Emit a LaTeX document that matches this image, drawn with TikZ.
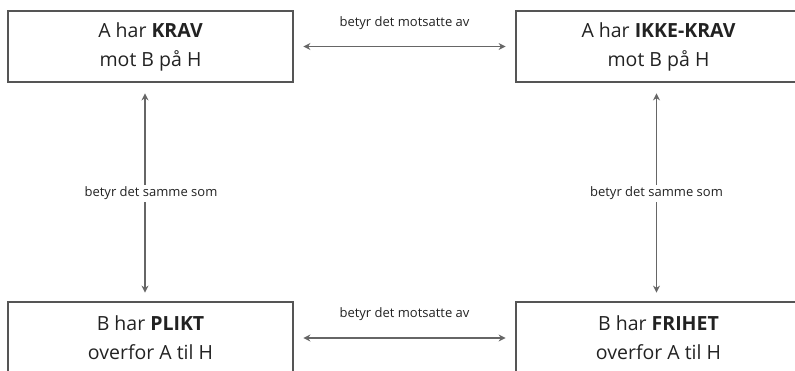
\documentclass[tikz,border=0pt]{standalone}
\usepackage{fontspec}
\setmainfont{Open Sans}
\usetikzlibrary{arrows.meta}
\definecolor{boxline}{HTML}{555555}
\definecolor{arrline}{HTML}{666666}
\definecolor{txt}{HTML}{222222}
\tikzset{
  mainbox/.style={draw=boxline, line width=2.8pt, minimum width=285pt, minimum height=71pt,
    inner sep=0pt, align=center, text=txt, font=\fontsize{19.5}{29}\selectfont},
  relarrow/.style={draw=arrline, line width=1.3pt, {Stealth[length=7pt,width=7pt]}-{Stealth[length=7pt,width=7pt]}},
  rellabel/.style={font=\fontsize{13}{15}\selectfont, text=txt, inner sep=2pt},
}
\begin{document}
\begin{tikzpicture}[x=1pt,y=-1pt]
\useasboundingbox (0,0) rectangle (795,370);
\clip (0,0) rectangle (795,370);
\node[mainbox] (krav) at (150.5,46.5) {A har \textbf{KRAV}\\mot B på H};
\node[mainbox] (ikke) at (658.5,46.5) {A har \textbf{IKKE-KRAV}\\mot B på H};
\node[mainbox] (plikt) at (150.5,337.5) {B har \textbf{PLIKT}\\overfor A til H};
\node[mainbox] (frihet) at (658.5,337.5) {B har \textbf{FRIHET}\\overfor A til H};

\draw[relarrow, shorten <=9pt, shorten >=9pt] (krav.east) -- (ikke.west);
\node[rellabel] (lab1) at (404.5,23) {betyr det motsatte av};
\draw[relarrow, shorten <=9pt, shorten >=9pt] ([yshift=-0.5pt]plikt.east) -- ([yshift=-0.5pt]frihet.west);
\node[rellabel] (lab2) at (404.5,314) {betyr det motsatte av};

\draw[relarrow, shorten <=10pt, shorten >=8pt] ([xshift=-5.5pt]krav.south) -- ([xshift=-5.5pt]plikt.north);
\node[rellabel, fill=white] (lab3) at (151,193) {betyr det samme som};
\draw[relarrow, shorten <=10pt, shorten >=8pt] ([xshift=-2pt]ikke.south) -- ([xshift=-2pt]frihet.north);
\node[rellabel, fill=white] (lab4) at (656.5,193) {betyr det samme som};
\end{tikzpicture}
\end{document}
